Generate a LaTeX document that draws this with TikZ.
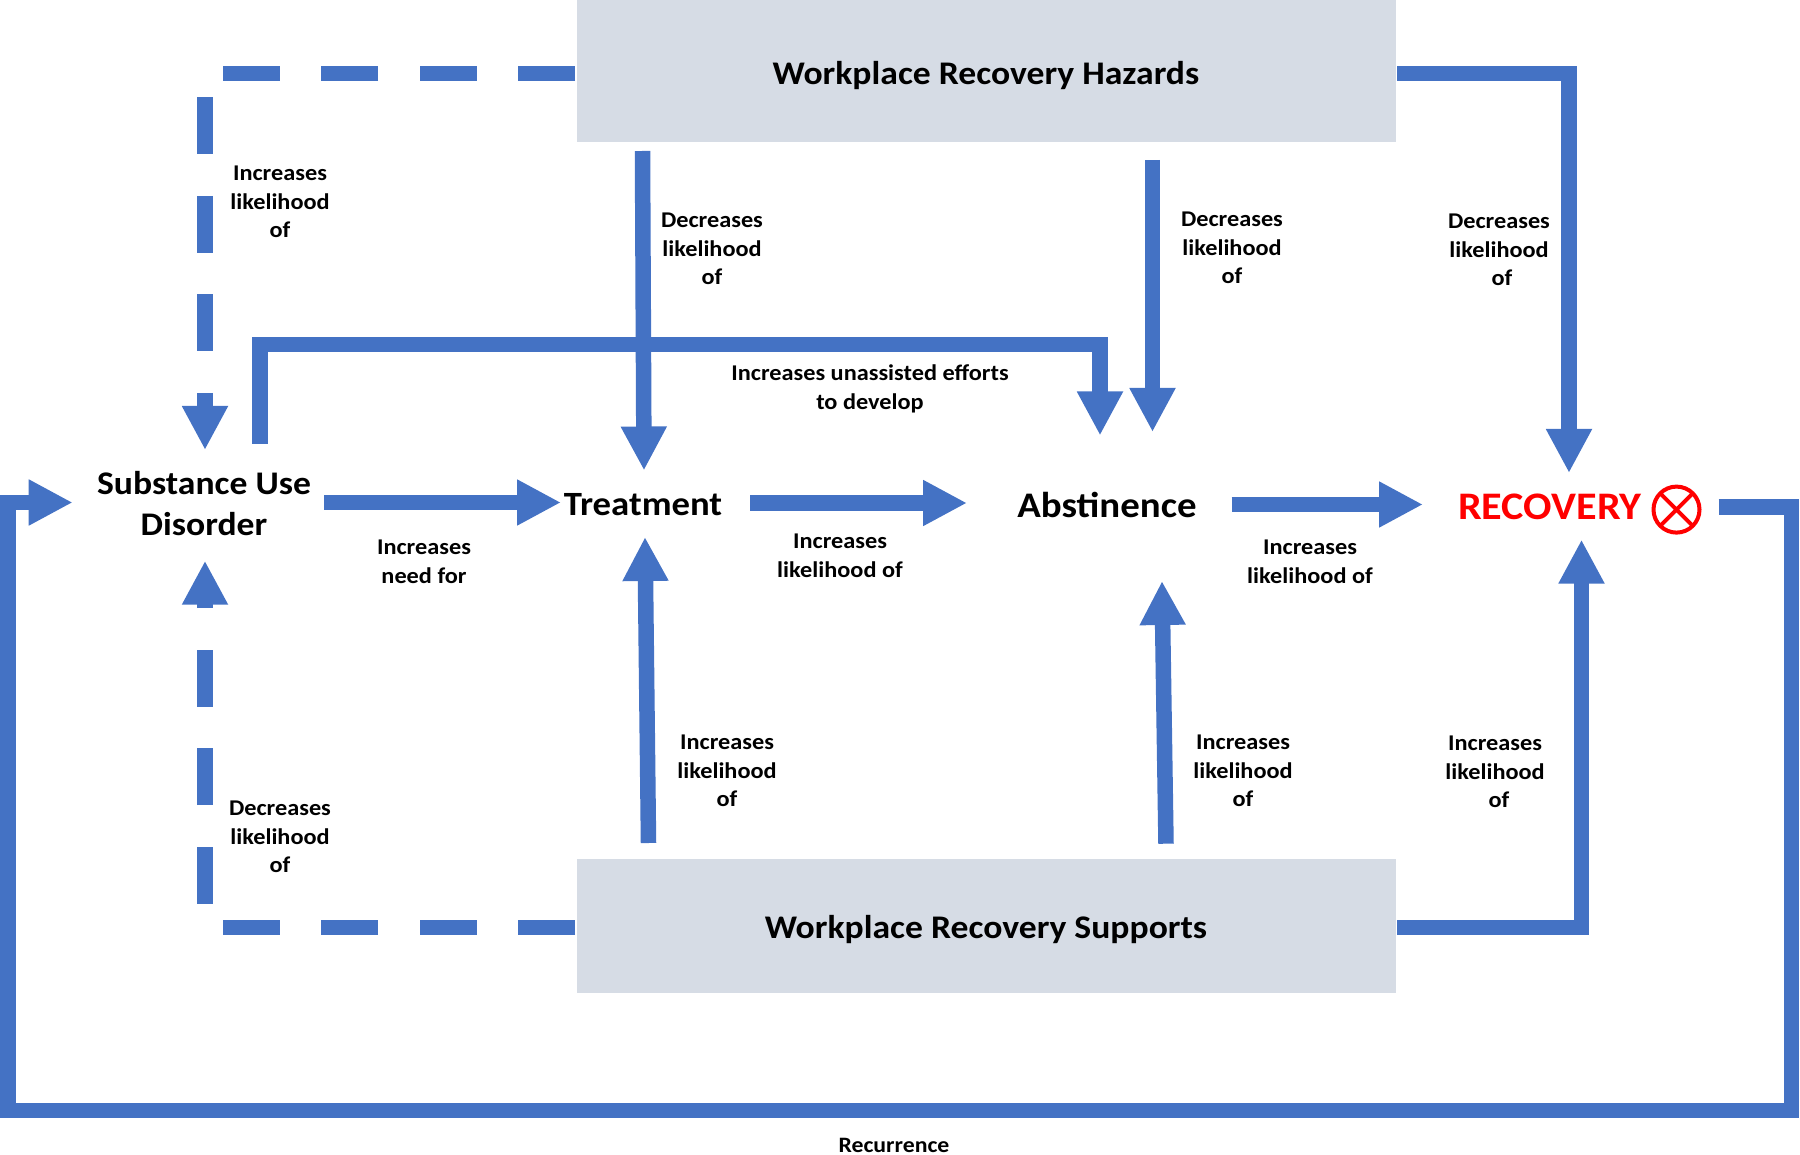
\documentclass[tikz,border=0pt]{standalone}
\usepackage{fontspec}
\setmainfont{Carlito}[FakeStretch=1.08]
\usetikzlibrary{arrows.meta}
\definecolor{flow}{HTML}{4472C4}
\definecolor{panel}{HTML}{D6DCE5}
\definecolor{rec}{HTML}{FF0000}
\tikzset{
  x=1pt,y=-1pt,
  flowline/.style={draw=flow,line width=15.5pt,line join=miter,miter limit=10,line cap=butt,-{Triangle[width=43pt,length=44pt,fill=flow]}},
  dashline/.style={flowline,dash pattern=on 57pt off 41.5pt},
  paneltext/.style={inner sep=0pt,font=\fontsize{33}{40}\selectfont\bfseries},
  title/.style={align=center,inner sep=0pt,font=\fontsize{34}{41}\selectfont\bfseries},
  lab/.style={align=center,inner sep=0pt,font=\fontsize{22.5}{28.6}\selectfont\bfseries},
}
\begin{document}
\begin{tikzpicture}
\useasboundingbox (0,0) rectangle (1800,1155);
% panels
\fill[panel] (577,0) rectangle (1396,142.5);
\fill[panel] (577,859) rectangle (1396,992.5);
\node[paneltext] (haz) at (986,75.5) {Workplace Recovery Hazards};
\node[paneltext] (sup) at (986,929.5) {Workplace Recovery Supports};
% main nodes
\node[title,font=\fontsize{33}{41}\selectfont\bfseries] (sud) at (204,504) {Substance Use\\Disorder};
\node[title] (tre) at (643,505) {Treatment};
\node[title,font=\fontsize{36}{41}\selectfont\bfseries] (abs) at (1107,505) {Abstinence};
\node[title,text=rec,font=\fontsize{39}{41}\selectfont\bfseries] (rcv) at (1550,506.5) {RECOVERY};
% cross-circle symbol
\draw[rec,line width=4pt] (1676.5,509.6) circle[radius=23pt];
\draw[rec,line width=4pt] (1660.5,493.6) -- (1692.5,525.6) (1692.5,493.6) -- (1660.5,525.6);
% free ends
\coordinate (hl) at (575,73.5);
\coordinate (sl) at (575,927.6);
\coordinate (hr) at (1397,73.5);
\coordinate (sr) at (1397,927.6);
% dashed connectors
\draw[dashline] (hl) -- (205,73.5) -- (205,450);
\draw[dashline] (sl) -- (205,927.6) -- (205,560.7);
% connectors from hazards
\draw[flowline] (642.5,151) -- (644,470.5);
\draw[flowline] (1152.5,160) -- (1152.5,432);
\draw[flowline] (hr) -- (1569,73.5) -- (1569,473);
% unassisted
\draw[flowline] (260,444) -- (260,344.5) -- (1100,344.5) -- (1100,435.5);
% horizontal chain
\draw[flowline] (324,502.5) -- (561,502.5);
\draw[flowline] (750,503) -- (967,503);
\draw[flowline] (1231.5,504.5) -- (1423,504.5);
% from supports
\draw[flowline] (648.5,843) -- (645,537);
\draw[flowline] (1166,843.7) -- (1162,581);
\draw[flowline] (sr) -- (1581.5,927.6) -- (1581.5,539.6);
% recurrence
\draw[flowline] (1718.6,507) -- (1791.5,507) -- (1791.5,1110.5) -- (8,1110.5) -- (8,502.5) -- (72.7,502.5);
% labels
\node[lab] (l1) at (280,202) {Increases\\likelihood\\of};
\node[lab] (l2) at (712,249) {Decreases\\likelihood\\of};
\node[lab] (l3) at (1232,248) {Decreases\\likelihood\\of};
\node[lab] (l4) at (1499,250) {Decreases\\likelihood\\\hspace{6pt}of};
\node[lab] (l5) at (870,389) {Increases unassisted efforts\\to develop};
\node[lab] (l6) at (424,561.5) {Increases\\need for};
\node[lab] (l7) at (840,556) {Increases\\likelihood of};
\node[lab] (l8) at (1310,561.5) {Increases\\likelihood of};
\node[lab] (l9) at (727,771) {Increases\\likelihood\\of};
\node[lab] (l10) at (1243,771) {Increases\\likelihood\\of};
\node[lab] (l11) at (1495,772) {Increases\\likelihood\\\hspace{8pt}of};
\node[lab] (l12) at (280,837) {Decreases\\likelihood\\of};
\node[inner sep=0pt,anchor=base,font=\fontsize{22}{24}\selectfont\bfseries] (l13) at (894,1152) {Recurrence};
\end{tikzpicture}
\end{document}
